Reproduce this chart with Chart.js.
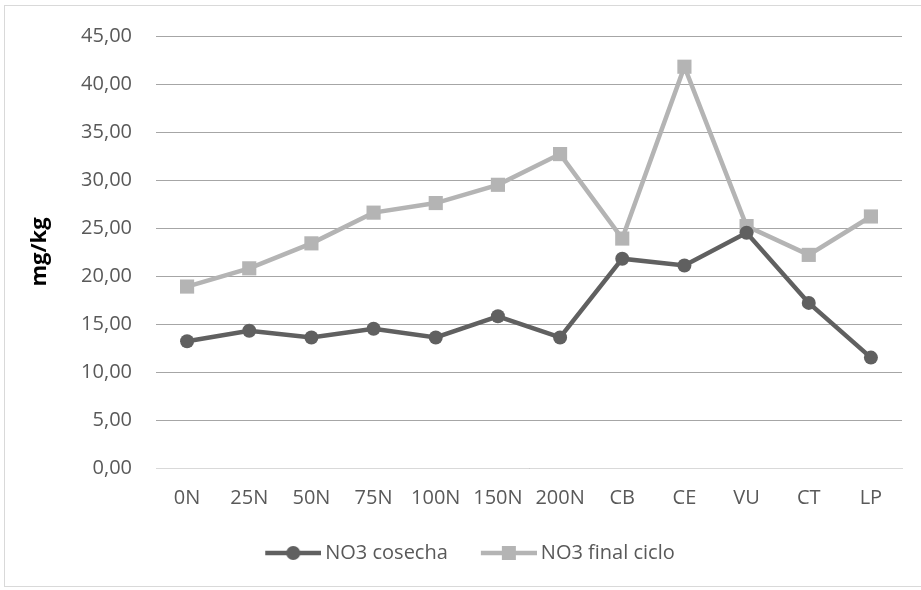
<!DOCTYPE html>
<html>
<head>
<meta charset="utf-8">
<script src="https://cdn.jsdelivr.net/npm/chart.js@4.4.1/dist/chart.umd.min.js"></script>
<style>
  html, body { margin: 0; padding: 0; background: #fff; overflow: hidden; }
  #wrap { position: relative; width: 921px; height: 590px; }
  #frame { position: absolute; left: 4px; top: 5px; width: 940px; height: 582px; border: 1px solid #d9d9d9; box-sizing: border-box; }
  canvas { position: absolute; left: 0; top: 0; }
</style>
</head>
<body>
<div id="wrap">
  <div id="frame"></div>
  <canvas id="chart" width="921" height="590"></canvas>
</div>
<script>
const labels = ["0N", "25N", "50N", "75N", "100N", "150N", "200N", "CB", "CE", "VU", "CT", "LP"];
const cosecha = [13.2, 14.3, 13.6, 14.5, 13.6, 15.8, 13.6, 21.8, 21.1, 24.5, 17.2, 11.5];
const finalCiclo = [18.9, 20.8, 23.4, 26.6, 27.6, 29.5, 32.7, 23.9, 41.8, 25.2, 22.2, 26.2];

const darkGrey = "#606060";
const lightGrey = "#b4b4b4";
const fontFamily = "'Open Sans', sans-serif";

// legend swatch: blank lead-in, then a line with the marker in the middle
const LEAD = 24;
const makeSwatch = (color, style) => {
  const c = document.createElement("canvas");
  c.width = LEAD + 56;
  c.height = 16;
  const ctx = c.getContext("2d");
  ctx.strokeStyle = color;
  ctx.lineWidth = 4.5;
  ctx.beginPath();
  ctx.moveTo(LEAD, 8);
  ctx.lineTo(LEAD + 56, 8);
  ctx.stroke();
  ctx.fillStyle = color;
  if (style === "circle") {
    ctx.beginPath();
    ctx.arc(LEAD + 28, 8, 7, 0, Math.PI * 2);
    ctx.fill();
  } else {
    ctx.fillRect(LEAD + 21, 1, 14, 14);
  }
  return c;
};

const data = {
  labels,
  datasets: [
    {
      label: "NO3 cosecha",
      data: cosecha,
      borderColor: darkGrey,
      backgroundColor: darkGrey,
      borderWidth: 4.5,
      pointStyle: "circle",
      pointRadius: 7,
      pointBorderWidth: 0,
      tension: 0,
      swatch: makeSwatch(darkGrey, "circle"),
    },
    {
      label: "NO3 final ciclo",
      data: finalCiclo,
      borderColor: lightGrey,
      backgroundColor: lightGrey,
      borderWidth: 4.5,
      pointStyle: "rect",
      pointRadius: 10,
      pointBorderWidth: 0,
      tension: 0,
      swatch: makeSwatch(lightGrey, "rect"),
    },
  ],
};

const chart = new Chart(document.getElementById("chart"), {
  type: "line",
  data,
  options: {
    responsive: false,
    animation: false,
    layout: { padding: { left: 20, right: 19, top: 35, bottom: 17 } },
    plugins: {
      tooltip: { enabled: false },
      legend: {
        position: "bottom",
        labels: {
          usePointStyle: true,
          pointStyleWidth: LEAD + 44,
          boxHeight: 16,
          padding: 15,
          color: "#595959",
          font: { family: fontFamily, size: 20 },
          generateLabels: (ch) =>
            ch.data.datasets.map((ds, i) => ({
              text: ds.label,
              pointStyle: ds.swatch,
              fillStyle: ds.borderColor,
              strokeStyle: ds.borderColor,
              lineWidth: 0,
              fontColor: "#595959",
              datasetIndex: i,
              hidden: false,
            })),
        },
      },
    },
    scales: {
      x: {
        offset: true,
        grid: { display: false, drawTicks: false },
        border: { display: true, color: "#d9d9d9", width: 1 },
        ticks: { color: "#595959", padding: 18, maxRotation: 0, autoSkip: false, font: { family: fontFamily, size: 20 } },
        afterFit: (s) => { s.height = 60; },
      },
      y: {
        min: 0,
        max: 45,
        grid: { color: "#a6a6a6", lineWidth: 1, drawTicks: false },
        border: { display: false },
        ticks: {
          stepSize: 5,
          padding: 24,
          color: "#595959",
          font: { family: fontFamily, size: 20 },
          callback: (v) => v.toFixed(2).replace(".", ","),
        },
        title: {
          display: true,
          text: "mg/kg",
          color: "#000",
          padding: { top: 7, bottom: 0 },
          font: { family: fontFamily, size: 22, weight: "bold" },
        },
        afterFit: (s) => { s.width = 136; },
      },
    },
  },
});
</script>
</body>
</html>
